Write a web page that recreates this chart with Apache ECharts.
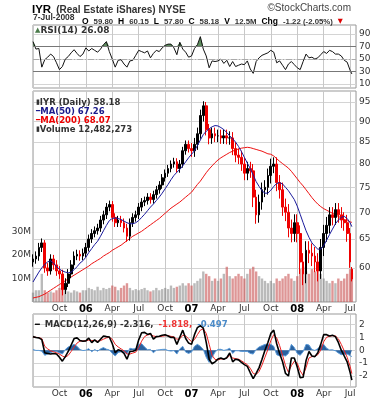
<!DOCTYPE html>
<html><head><meta charset="utf-8">
<script src="https://cdn.jsdelivr.net/npm/echarts@6/dist/echarts.min.js"></script>
<style>html,body{margin:0;padding:0;background:#fff}#c{width:382px;height:400px}</style>
</head><body><div id="c"></div>
<script>
const dates = [
'2005-07-01','2005-07-11','2005-07-21','2005-08-01','2005-08-11','2005-08-21','2005-09-01','2005-09-11','2005-09-21',
'2005-10-01','2005-10-11','2005-10-21','2005-11-01','2005-11-11','2005-11-21','2005-12-01','2005-12-11','2005-12-21',
'2006-01-01','2006-01-11','2006-01-21','2006-02-01','2006-02-11','2006-02-21','2006-03-01','2006-03-11','2006-03-21',
'2006-04-01','2006-04-11','2006-04-21','2006-05-01','2006-05-11','2006-05-21','2006-06-01','2006-06-11','2006-06-21',
'2006-07-01','2006-07-11','2006-07-21','2006-08-01','2006-08-11','2006-08-21','2006-09-01','2006-09-11','2006-09-21',
'2006-10-01','2006-10-11','2006-10-21','2006-11-01','2006-11-11','2006-11-21','2006-12-01','2006-12-11','2006-12-21',
'2007-01-01','2007-01-11','2007-01-21','2007-02-01','2007-02-11','2007-02-21','2007-03-01','2007-03-11','2007-03-21',
'2007-04-01','2007-04-11','2007-04-21','2007-05-01','2007-05-11','2007-05-21','2007-06-01','2007-06-11','2007-06-21',
'2007-07-01','2007-07-11','2007-07-21','2007-08-01','2007-08-11','2007-08-21','2007-09-01','2007-09-11','2007-09-21',
'2007-10-01','2007-10-11','2007-10-21','2007-11-01','2007-11-11','2007-11-21','2007-12-01','2007-12-11','2007-12-21',
'2008-01-01','2008-01-11','2008-01-21','2008-02-01','2008-02-11','2008-02-21','2008-03-01','2008-03-11','2008-03-21',
'2008-04-01','2008-04-11','2008-04-21','2008-05-01','2008-05-11','2008-05-21','2008-06-01','2008-06-11','2008-06-21',
'2008-07-01','2008-07-07'];

const priceOpen = [
61,61.5,62,63.5,64.3,60,59.5,61.5,60.5,59.5,
59,56.5,57.5,59,60.5,62,62.3,62,62.5,63.5,
65,66,66.5,67,68.5,69.5,71,71.5,69,68,
68.5,68,67,65.5,68,69,69.5,71,72,72.3,
73,72.5,73.5,74.5,75.5,77,78,79,80,80.5,
79,80,83,84.5,83.5,83,84.5,87,91.5,94,
88,86,87,86.5,86.5,86,86.5,86,86,83.5,
82,81.5,80,78,79,78.5,73,69.5,72,74.5,
75,77.5,79.5,80,76,74.5,71,70,67,66,
68,66,61,59,63,62.5,62,61,59.5,63.5,
66,67.5,69.5,69,70.5,69.5,68.5,68,66,59.8];
const priceClose = [
61.5,62,63.5,64.3,60,59.5,61.5,60.5,59.5,59,
56.5,57.5,59,60.5,62,62.3,62,62.5,63.5,65,
66,66.5,67,68.5,69.5,71,71.5,69,68,68.5,
68,67,65.5,68,69,69.5,71,72,72.3,73,
72.5,73.5,74.5,75.5,77,78,79,80,80.5,79,
80,83,84.5,83.5,83,84.5,87,91.5,94,88,
86,87,86.5,86.5,86,86.5,86,86,83.5,82,
81.5,80,78,79,78.5,73,69.5,72,74.5,75,
77.5,79.5,80,76,74.5,71,70,67,66,68,
66,61,59,63,62.5,62,61,59.5,63.5,66,
67.5,69.5,69,70.5,69.5,68.5,68,66,61,58.18];
const priceHigh = [
62.3,62.8,64.3,65.1,64.8,60.8,62.3,62.2,61.3,60.3,
59.7,58.3,59.8,61.3,62.8,63.1,63,63.3,64.3,65.8,
66.8,67.3,67.8,69.3,70.3,71.8,72.3,72.2,69.8,69.3,
69.3,68.8,67.8,68.8,69.8,70.3,71.8,72.8,73.1,73.8,
73.8,74.3,75.3,76.3,77.8,78.8,79.8,80.8,81.4,81.3,
80.9,83.9,85.4,85.4,84.8,86,88.5,93,95.2,95,
89.4,88.5,88.5,88,88,88,88,87.6,87.4,85,
83.5,83,81.5,80.5,80.5,80,74.5,73.5,76,76.5,
79,81.2,81.5,81.5,77.6,76,72.7,71.6,68.6,69.6,
69.6,67.5,62.5,64.6,64.6,64.2,63.6,62.5,65,67.6,
69.1,71,71,71.8,71.8,71,70,69.5,67,60.15];
const priceLow = [
60.2,60.7,61.2,62.7,59.2,58.7,58.9,59.7,58.7,58.2,
55.6,55.8,56.9,58.3,59.8,61.3,61.2,61.3,61.8,62.8,
64.3,65.3,65.8,66.3,67.7,68.7,70.2,68.2,67.2,67.2,
67.2,66.2,64.5,64.7,67.2,68.2,68.7,70.2,71.2,71.5,
71.7,71.7,72.7,73.7,74.7,76.2,77.2,78.2,79.2,78.1,
78.1,79.2,82.1,82.6,81.6,81.6,83.2,85.8,90,86.6,
84.5,84.6,85,85,84.6,84.6,84.5,84.4,82,80.4,
80,78.5,76.5,76.5,77,71,67.8,68,70.5,73,
73.5,75.8,78,74.2,72.7,69.3,68.3,65.3,64.4,64.5,
64.4,59,57.2,57.5,60.8,60.3,59.3,57.8,58.2,62,
64.5,66,67.5,67.6,68,67,66.5,64.5,60,57.8];
const volumeM = [
4,5,5,12,5,4,4.5,4,5,6,
7,5,4.5,4,5,4.5,4,5,5,6,
5.5,5,6.5,5,6,5.5,6,7,6.5,5,
6,7,8,6,5,5.5,5,5.5,6,5,
4.5,5,6,5,5.5,6,5.5,7,6,6.5,
7,8,7,8,7,8,9,10,13,12,
11,9,10,9,10,12,15,11,10,11,
12,11,10,12,14,15,13,11,10,9,
8,9,8,10,9,10,11,12,10,9,
11,14,15,13,12,14,13,15,12,10,
9,8,9,8,10,9,10,12,14,12.5];
const ma50 = [
57.7,58.5,59.3,60,60.6,61,61.2,60.8,60.2,59.8,
59.5,59.3,59.2,59.3,59.7,60.2,60.8,61.2,61.8,62.6,
63.3,64,64.6,65.5,66.5,67.5,68.4,68.8,68.9,68.8,
68.6,68.3,68,67.8,67.8,68,68.4,69,69.6,70.3,
71,71.6,72.3,73,73.8,74.7,75.6,76.6,77.5,78.2,
78.8,79.6,80.5,81.4,82.2,83,84.2,85.5,86.8,87.6,
88.2,88.7,89,88.9,88.5,88,87.3,86.5,85.8,85,
84,82.8,81.5,80.2,79,77.6,76.2,75.2,74.3,73.8,
73.8,74.4,75.2,75.8,76,75.7,75,74.3,73.4,72.5,
71.2,69.6,68,66.5,65.3,64.3,63.7,63.2,63.2,63.8,
64.8,65.8,66.8,67.8,68.5,69,69.2,68.8,68,67.26];
const ma200 = [
55.2,55.3,55.4,55.6,55.8,56.1,56.4,56.7,57,57.3,
57.6,57.9,58.2,58.5,58.8,59.1,59.4,59.7,60,60.3,
60.7,61,61.3,61.6,62,62.3,62.6,63,63.3,63.6,
63.9,64.3,64.7,65.1,65.5,65.8,66.1,66.4,66.8,67.2,
67.6,68,68.4,68.8,69.3,69.8,70.3,70.8,71.2,71.6,
72,72.5,73,73.5,74,74.8,75.6,76.3,77.2,78.1,
78.9,79.6,80.3,80.9,81.4,81.8,82.2,82.6,82.9,83.2,
83.4,83.6,83.7,83.8,83.7,83.5,83.3,83.1,82.9,82.6,
82.3,82.2,81.8,81.2,80.6,80.1,79.6,79.1,78.4,77.6,
76.8,76,75.3,74.5,73.7,72.9,72.2,71.6,71.1,70.7,
70.4,70.1,69.8,69.5,69.2,68.9,68.6,68.4,68.15,68.07];
const rsi14 = [
78,66,67,37,49,53,58,54,44,33,
38,50,54,60,65,59,54,58,68,63,
67,64,61,66,73,78,62,50,37,48,
49,42,37,47,48,56,64,62,60,63,
52,59,64,62,68,72,74,74,68,57,
77,66,61,53,55,67,73,86,66,55,
36,47,46,47,50,43,48,38,46,38,
40,42,41,47,34,27,46,52,56,58,
60,64,61,44,47,40,33,42,46,41,
36,33,46,58,52,53,50,52,57,62,
59,64,62,58,58,55,48,45,32,26.08];
const macd = [
1.05,0.98,0.95,0.82,-0.2,-0.25,-0.3,-0.25,-0.3,-0.55,
-0.85,-0.5,-0.1,0.4,0.9,0.95,0.75,0.69,0.72,0.93,
0.58,0.8,0.6,0.85,1.1,1.05,1.02,0.5,-0.2,0.03,
-0.05,-0.25,-0.7,-0.1,-0.08,0.0,0.8,1.35,1.38,1.22,
1.3,0.85,1.05,1.08,1.15,1.2,1.1,0.98,1.0,0.45,
1.0,1.55,0.9,0.55,0.45,1.2,1.75,1.9,1.7,0.6,
-0.7,-1.05,-0.9,-0.68,-0.6,-0.7,-0.58,-0.22,-0.9,-0.7,
-0.75,-0.95,-1.12,-1.25,-1.75,-2.2,-1.8,-1.35,-0.7,0.0,
0.6,1.3,1.55,0.5,-0.25,-0.9,-1.8,-2.0,-0.6,-0.6,
-1.3,-2.13,-2.1,-0.8,-0.1,-0.45,-0.5,-0.2,0.45,1.2,
1.2,1.1,1.15,1.05,0.6,0.0,-0.45,-0.9,-1.72,-2.316];
const macdSignal = [
1.0,1.0,0.97,0.9,0.3,0.1,-0.05,-0.12,-0.2,-0.3,
-0.45,-0.55,-0.4,-0.1,0.25,0.55,0.7,0.72,0.72,0.78,
0.75,0.75,0.7,0.74,0.85,0.95,1.0,0.85,0.45,0.25,
0.1,-0.05,-0.3,-0.3,-0.22,-0.15,0.2,0.7,1.05,1.18,
1.23,1.1,1.05,1.05,1.08,1.12,1.13,1.07,1.03,0.85,
0.88,1.15,1.1,0.88,0.65,0.82,1.2,1.55,1.65,1.3,
0.45,-0.4,-0.72,-0.75,-0.68,-0.68,-0.62,-0.42,-0.6,-0.66,
-0.7,-0.82,-0.98,-1.12,-1.4,-1.8,-1.88,-1.65,-1.15,-0.55,
0.05,0.75,1.2,0.95,0.35,-0.4,-1.2,-1.7,-1.2,-0.85,
-1.0,-1.6,-1.95,-1.35,-0.6,-0.5,-0.48,-0.35,0.0,0.65,
1.0,1.08,1.12,1.1,0.88,0.45,-0.05,-0.55,-1.25,-1.818];
const macdHist = [
0.05,-0.02,-0.02,-0.08,-0.4,-0.3,-0.2,-0.1,-0.1,-0.2,
-0.3,0.05,0.25,0.35,0.45,0.3,0.05,-0.03,0.0,0.12,
-0.12,0.05,-0.08,0.1,0.2,0.08,0.02,-0.25,-0.45,-0.18,
-0.12,-0.15,-0.3,0.15,0.1,0.12,0.45,0.5,0.25,0.04,
0.06,-0.2,0.0,0.03,0.06,0.07,-0.03,-0.07,-0.03,-0.3,
0.1,0.3,-0.15,-0.25,-0.15,0.3,0.45,0.3,0.05,-0.55,
-0.95,-0.55,-0.15,0.06,0.07,-0.02,0.04,0.15,-0.25,-0.04,
-0.05,-0.1,-0.1,-0.1,-0.25,-0.3,0.06,0.25,0.35,0.45,
0.45,0.45,0.3,-0.35,-0.45,-0.4,-0.45,-0.25,0.45,0.2,
-0.25,-0.4,-0.12,0.45,0.4,0.05,-0.02,0.12,0.35,0.45,
0.15,0.02,0.03,-0.05,-0.22,-0.35,-0.32,-0.3,-0.42,-0.497];

const priceTicks = [60,65,70,75,80,85,90,95];
const volTicks = [10,20,30];
const rsiTicks = [10,30,50,70,90];
const macdTicks = [-2,-1,0,1,2];
const monthLabels = {3:'Oct',6:'06',9:'Apr',12:'Jul',15:'Oct',18:'07',21:'Apr',24:'Jul',27:'Oct',30:'08',33:'Apr',36:'Jul'};

const FONT = 'DejaVu Sans';
const SANS = 'Liberation Sans';
const xs = dates.map(d => { const p = d.split('-').map(Number); return (p[0]-2005)*12 + (p[1]-7) + (p[2]-1)/30; });
const LN = Math.log;
const pair = (arr, f) => arr.map((v,i) => [xs[i], f ? f(v) : v]);

const chart = echarts.init(document.getElementById('c'), null, {renderer:'canvas'});
const gridLine = {show:true, lineStyle:{color:'#d4d4d4', width:1}};
const xAxisBase = (gi, showLabel) => ({
  type:'value', gridIndex:gi, min:0, max:36.67, interval:3,
  axisLine:{show:false}, axisTick:{show:false},
  splitLine:{show:true, lineStyle:{color:'#c8c8c8', width:1}},
  axisLabel:{show:showLabel, margin:2, fontFamily:FONT, fontSize:9, color:'#333',
    formatter: v => { const s = monthLabels[Math.round(v)]; if(!s || Math.abs(v-Math.round(v))>0.01) return ''; return /^\d/.test(s) ? '{b|'+s+'}' : s; },
    rich:{b:{fontWeight:'bold', fontSize:10, fontFamily:FONT, color:'#000'}}}
});
const rightLabel = (vals, fmt) => ({show:true, customValues:vals, formatter:fmt, margin:3, fontFamily:FONT, fontSize:9, color:'#333'});

const option = {
  backgroundColor:'#fff',
  animation:false,
  title:[
    {text:'{a|IYR} {b|(Real Estate iShares) NYSE}', left:32, top:1, padding:0,
      textStyle:{rich:{a:{fontSize:11.5, fontWeight:'bold', color:'#000', fontFamily:SANS}, b:{fontSize:10, color:'#333', fontFamily:SANS}}}},
    {text:'©StockCharts.com', right:31, top:3, padding:0, textStyle:{fontSize:10, fontWeight:'normal', color:'#444', fontFamily:SANS}},
    {text:'{d|7-Jul-2008}', left:33, top:13, padding:0, textStyle:{rich:{d:{fontSize:8.5, color:'#333', fontFamily:SANS}}}},
    {text:'{k|O} {v|59.80} {k|H} {v|60.15} {k|L} {v|57.80} {k|C} {v|58.18} {k|V} {v|12.5M} {k|Chg} {v|-1.22 (-2.05%)} {r|▼}', left:82, top:12.5, padding:0,
      textStyle:{rich:{k:{fontSize:8.5, fontWeight:'bold', color:'#000', fontFamily:SANS}, v:{fontSize:7.8, color:'#333', fontFamily:SANS}, r:{fontSize:6.5, color:'#d00', fontFamily:FONT}}}},
    {text:'{g|▲}{t|RSI(14) 26.08}', left:35, top:26, padding:0,
      textStyle:{rich:{g:{fontSize:7, color:'#4a7a4a', fontFamily:FONT}, t:{fontSize:9, color:'#333', fontFamily:FONT}}}},
    {text:'{k|▮}{t|IYR (Daily) 58.18}\n{bl|━}{b|MA(50) 67.26}\n{rl|━}{r|MA(200) 68.07}\n{k|▮}{t|Volume 12,482,273}', left:36, top:98, padding:0,
      textStyle:{lineHeight:9, rich:{
        k:{fontSize:7, color:'#333', fontFamily:FONT, lineHeight:9},
        t:{fontSize:8.5, color:'#333', fontFamily:FONT, lineHeight:9},
        bl:{fontSize:7, color:'#1a1a8c', fontFamily:FONT, lineHeight:9},
        b:{fontSize:8.5, color:'#1a1a8c', fontFamily:FONT, lineHeight:9},
        rl:{fontSize:7, color:'#e00', fontFamily:FONT, lineHeight:9},
        r:{fontSize:8.5, color:'#e00', fontFamily:FONT, lineHeight:9}}}},
    {text:'{k|━} {t|MACD(12,26,9) -2.316,} {r|-1.818,} {b|-0.497}', left:35, top:316, padding:0,
      textStyle:{rich:{k:{fontSize:8, color:'#000', fontFamily:FONT}, t:{fontSize:8.5, color:'#333', fontFamily:FONT}, r:{fontSize:8.5, color:'#e33', fontFamily:FONT}, b:{fontSize:8.5, color:'#4a8ac8', fontFamily:FONT}}}}
  ],
  grid:[
    {left:33, right:26, top:25, height:63, show:true, borderColor:'#999', borderWidth:1, backgroundColor:'transparent'},
    {left:33, right:26, top:91, height:211, show:true, borderColor:'#999', borderWidth:1, backgroundColor:'transparent'},
    {left:33, right:26, top:314, height:73, show:true, borderColor:'#999', borderWidth:1, backgroundColor:'transparent'}
  ],
  xAxis:[xAxisBase(0,false), xAxisBase(1,true), xAxisBase(2,true)],
  yAxis:[
    {type:'value', gridIndex:0, position:'right', min:3.5, max:104.7,
      axisLine:{show:false}, axisTick:{show:false, customValues:rsiTicks},
      splitLine:gridLine, axisLabel:rightLabel(rsiTicks, v=>String(v))},
    {type:'value', gridIndex:1, position:'right', min:3.99986, max:4.58435,
      axisLine:{show:false}, axisTick:{show:false, customValues:priceTicks.map(LN)},
      splitLine:gridLine, axisLabel:rightLabel(priceTicks.map(LN), v=>String(Math.round(Math.exp(v))))},
    {type:'value', gridIndex:1, position:'left', min:0, max:89.8,
      axisLine:{show:false}, axisTick:{show:false, customValues:volTicks},
      splitLine:{show:false}, axisLabel:{show:true, customValues:volTicks, formatter:v=>v+'M', margin:2, fontFamily:FONT, fontSize:9, color:'#333'}},
    {type:'value', gridIndex:2, position:'right', min:-2.85, max:2.8,
      axisLine:{show:false}, axisTick:{show:false, customValues:macdTicks},
      splitLine:gridLine, axisLabel:rightLabel(macdTicks, v=>String(v))}
  ],
  series:[
    {type:'line', xAxisIndex:0, yAxisIndex:0, data:pair(rsi14, v=>Math.max(v,70)), showSymbol:false, silent:true,
      lineStyle:{width:0}, areaStyle:{origin:70, color:'#5e8c5e', opacity:1}, z:2},
    {type:'line', xAxisIndex:0, yAxisIndex:0, data:pair(rsi14), showSymbol:false, lineStyle:{color:'#111', width:1}, z:4,
      markLine:{silent:true, symbol:'none', label:{show:false},
        data:[{yAxis:70, lineStyle:{color:'#777', type:'solid', width:1}}, {yAxis:30, lineStyle:{color:'#777', type:'solid', width:1}},
              {yAxis:50, lineStyle:{color:'#aaa', type:[6,2,1,2], width:1}}]}},
    {type:'bar', xAxisIndex:1, yAxisIndex:2, barWidth:2.4, z:1,
      data: volumeM.map((v,i)=>({value:[xs[i], v], itemStyle:{color: priceClose[i] < priceOpen[i] ? 'rgba(200,80,80,0.6)' : 'rgba(130,130,130,0.55)'}}))},
    {type:'line', xAxisIndex:1, yAxisIndex:1, data:pair(ma200, LN), showSymbol:false, lineStyle:{color:'#ee1111', width:1}, z:3},
    {type:'candlestick', xAxisIndex:1, yAxisIndex:1, barWidth:2.2, z:4,
      encode:{x:0, y:[1,2,3,4]},
      data: dates.map((d,i)=>[xs[i], LN(priceOpen[i]), LN(priceClose[i]), LN(priceLow[i]), LN(priceHigh[i])]),
      itemStyle:{color:'#000', color0:'#e00', borderColor:'#000', borderColor0:'#e00', borderWidth:1}},
    {type:'line', xAxisIndex:1, yAxisIndex:1, data:pair(ma50, LN), showSymbol:false, lineStyle:{color:'#1a1a9c', width:1}, z:5},
    {type:'line', xAxisIndex:2, yAxisIndex:3, data:pair(macdHist), showSymbol:false, lineStyle:{color:'#5a9ad8', width:1},
      areaStyle:{origin:0, color:'#2a62a0', opacity:1}, z:2},
    {type:'line', xAxisIndex:2, yAxisIndex:3, data:pair(macdSignal), showSymbol:false, lineStyle:{color:'#ee2222', width:1}, z:3},
    {type:'line', xAxisIndex:2, yAxisIndex:3, data:pair(macd), showSymbol:false, lineStyle:{color:'#000', width:1.6}, z:4}
  ]
};
chart.setOption(option);
</script></body></html>
